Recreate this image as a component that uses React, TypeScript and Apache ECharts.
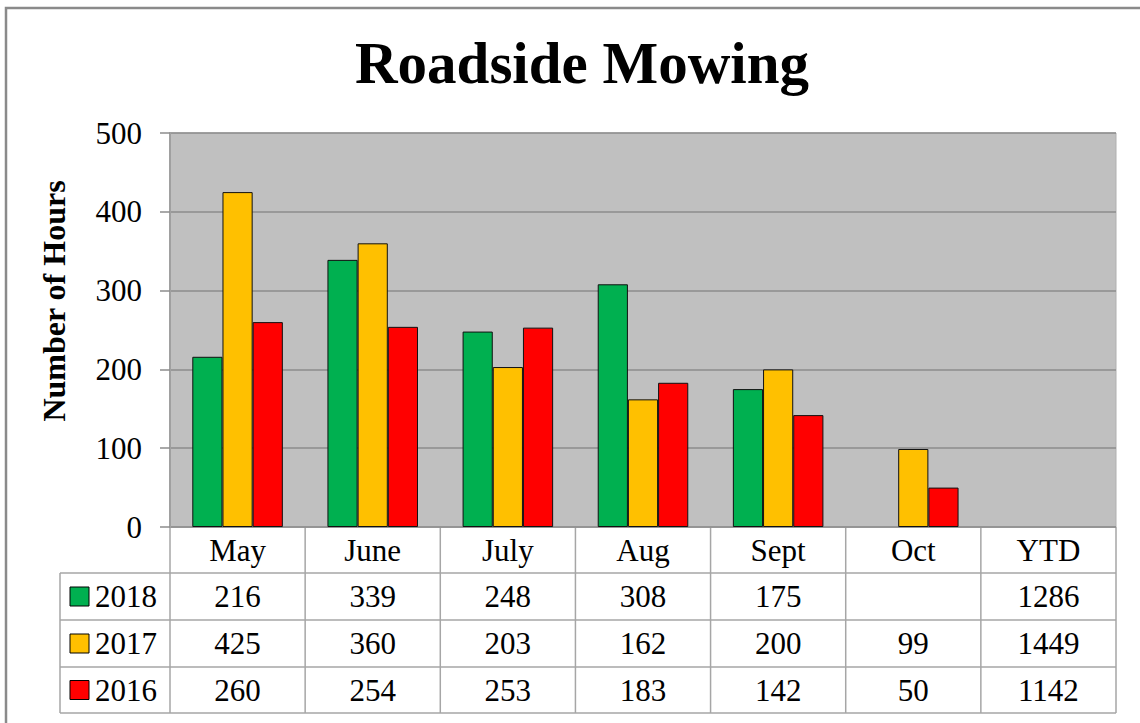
import React, { useEffect, useRef } from "react";
import * as echarts from "echarts";

const categories = ["May", "June", "July", "Aug", "Sept", "Oct", "YTD"];
const seriesNames = ["2018", "2017", "2016"];
const colors = ["#00B050", "#FFC000", "#FF0000"];
const values2018: (number | null)[] = [216, 339, 248, 308, 175, null];
const values2017: (number | null)[] = [425, 360, 203, 162, 200, 99];
const values2016: (number | null)[] = [260, 254, 253, 183, 142, 50];
const ytdValues = [1286, 1449, 1142];
const yTicks = { min: 0, max: 500, interval: 100 };

const FONT = "'Liberation Serif', 'Times New Roman', serif";

export default function App() {
  const ref = useRef<HTMLDivElement>(null);
  useEffect(() => {
    const chart = echarts.init(ref.current!, null, { renderer: "svg" });
    const gridL = 170, gridR = 1116, gridT = 133, gridB = 527;
    const colW = (gridR - gridL) / categories.length;
    const rowYs = [527, 573, 620, 667, 713];
    const legendL = 60;
    const lineColor = "#a6a6a6";
    const all = [values2018, values2017, values2016];

    const graphics: any[] = [];
    graphics.push({
      type: "rect", silent: true, z: -10,
      shape: { x: 6, y: 8, width: 1300, height: 900 },
      style: { fill: "none", stroke: "#8a8a8a", lineWidth: 2.5 },
    });
    for (let i = 1; i < rowYs.length; i++) {
      graphics.push({
        type: "line", silent: true,
        shape: { x1: legendL, y1: rowYs[i], x2: gridR, y2: rowYs[i] },
        style: { stroke: lineColor, lineWidth: 1.5 },
      });
    }
    graphics.push({
      type: "line", silent: true,
      shape: { x1: gridL, y1: rowYs[0], x2: gridR, y2: rowYs[0] },
      style: { stroke: lineColor, lineWidth: 1.5 },
    });
    graphics.push({
      type: "line", silent: true,
      shape: { x1: legendL, y1: rowYs[1], x2: legendL, y2: rowYs[4] },
      style: { stroke: lineColor, lineWidth: 1.5 },
    });
    for (let i = 0; i <= categories.length; i++) {
      const x = gridL + i * colW;
      graphics.push({
        type: "line", silent: true,
        shape: { x1: x, y1: rowYs[0], x2: x, y2: rowYs[4] },
        style: { stroke: lineColor, lineWidth: 1.5 },
      });
    }
    seriesNames.forEach((name, r) => {
      const cy = (rowYs[r + 1] + rowYs[r + 2]) / 2;
      graphics.push({
        type: "rect", silent: true,
        shape: { x: 70, y: cy - 9.5, width: 19, height: 19 },
        style: { fill: colors[r], stroke: "#000", lineWidth: 1 },
      });
      graphics.push({
        type: "text", silent: true, x: 95, y: cy,
        style: { text: name, font: `31px ${FONT}`, fill: "#000", align: "left", verticalAlign: "middle" },
      });
      const rowVals: (number | null)[] = [...all[r], ytdValues[r]];
      rowVals.forEach((v, c) => {
        if (v === null) return;
        graphics.push({
          type: "text", silent: true, x: gridL + (c + 0.5) * colW, y: cy,
          style: { text: String(v), font: `31px ${FONT}`, fill: "#000", align: "center", verticalAlign: "middle" },
        });
      });
    });

    chart.setOption({
      animation: false,
      backgroundColor: "#fff",
      title: {
        text: "Roadside Mowing",
        left: 577, top: 28, textAlign: "center",
        textStyle: { fontFamily: FONT, fontSize: 59, fontWeight: "bold", color: "#000" },
      },
      grid: {
        left: gridL, top: gridT, width: gridR - gridL, height: gridB - gridT,
        show: true, backgroundColor: "#C0C0C0", borderColor: "#b0b0b0", borderWidth: 1,
      },
      xAxis: {
        type: "category",
        data: categories,
        axisLine: { show: false },
        axisTick: { show: false },
        axisLabel: { margin: 8, fontFamily: FONT, fontSize: 31, color: "#000" },
      },
      yAxis: {
        type: "value",
        min: yTicks.min, max: yTicks.max, interval: yTicks.interval,
        name: "Number of Hours",
        nameLocation: "middle",
        nameGap: 100,
        nameTextStyle: {
          fontFamily: FONT, fontSize: 32, fontWeight: "bold", color: "#000",
          padding: [0, 0, 0, 58],
        },
        axisLine: { show: true, lineStyle: { color: "#a0a0a0", width: 2 } },
        axisTick: { show: true, length: 10, lineStyle: { color: "#8c8c8c", width: 1.5 } },
        axisLabel: { margin: 28, fontFamily: FONT, fontSize: 31, color: "#000" },
        splitLine: { show: true, lineStyle: { color: "#8c8c8c", width: 1.5 } },
      },
      series: seriesNames.map((name, i) => ({
        type: "bar",
        name,
        data: [...all[i], null],
        barGap: "0%",
        barCategoryGap: "33%",
        itemStyle: { color: colors[i], borderColor: "#111", borderWidth: 1 },
      })),
      graphic: graphics,
    });
    return () => chart.dispose();
  }, []);
  return (
    <div
      ref={ref}
      style={{ position: "fixed", left: 0, top: 0, width: 1140, height: 723 }}
    />
  );
}
